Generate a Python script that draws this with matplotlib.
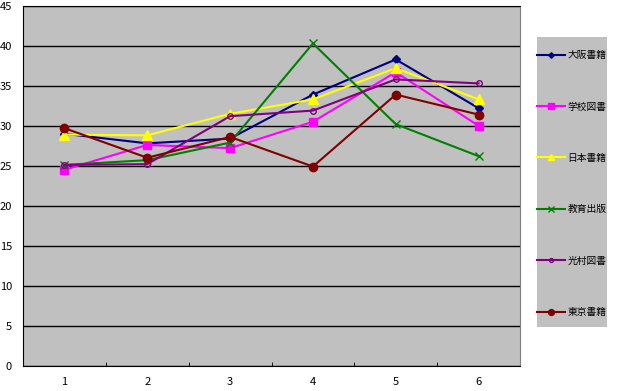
import matplotlib.pyplot as plt
from matplotlib.patches import Rectangle
from matplotlib.ticker import MultipleLocator

plt.rcParams['font.family'] = ['Noto Sans CJK JP', 'DejaVu Sans']

# 数値データ
x = [1, 2, 3, 4, 5, 6]
osaka = [29.0, 27.8, 28.4, 33.9, 38.3, 32.2]
gakko = [24.5, 27.6, 27.2, 30.5, 36.7, 30.0]
nihon = [28.9, 28.8, 31.5, 33.3, 37.2, 33.3]
kyoiku = [25.1, 25.7, 27.9, 40.3, 30.2, 26.2]
mitsumura = [25.1, 25.2, 31.2, 31.9, 35.8, 35.3]
tokyo = [29.7, 26.0, 28.6, 24.9, 33.9, 31.4]

labels = ['大阪書籍', '学校図書', '日本書籍', '教育出版', '光村図書', '東京書籍']

fig = plt.figure(figsize=(6.22, 3.91), dpi=100)
fig.patch.set_facecolor('white')
ax = fig.add_axes([0.037, 0.065, 0.799, 0.92])
ax.set_facecolor('#C0C0C0')

ax.plot(x, osaka, color='#000080', marker='D', markersize=4, lw=1.5, label=labels[0])
ax.plot(x, gakko, color='#FF00FF', marker='s', markersize=6, lw=1.5, label=labels[1])
ax.plot(x, nihon, color='#FFFF00', marker='^', markersize=7, lw=1.5, label=labels[2])
ax.plot(x, kyoiku, color='#008000', marker='x', markersize=6, lw=1.5,
        markeredgewidth=1, label=labels[3])
ax.plot(x, mitsumura, color='#800080', marker='o', markersize=4, lw=1.5,
        markerfacecolor='none', markeredgewidth=1, label=labels[4])
ax.plot(x, tokyo, color='#800000', marker='o', markersize=6, lw=1.5, label=labels[5])

# 軸設定
ax.set_xlim(0.5, 6.5)
ax.set_ylim(0, 45)
ax.yaxis.set_major_locator(MultipleLocator(5))
ax.set_xticks(x)
ax.set_xticks([1.5, 2.5, 3.5, 4.5, 5.5, 6.5], minor=True)
ax.tick_params(axis='x', which='major', length=0, labelsize=8, pad=8)
ax.tick_params(axis='x', which='minor', length=3, direction='in')
ax.tick_params(axis='y', length=0, labelsize=8, pad=8)
ax.yaxis.grid(True, color='black', lw=1)
ax.set_axisbelow(True)
for s in ['left', 'bottom', 'top']:
    ax.spines[s].set_color('black')
ax.spines['right'].set_color('#808080')

# 凡例の背景
fig.patches.append(Rectangle((0.8633, 0.1637), 0.1126, 0.7417,
                             transform=fig.transFigure, facecolor='#C0C0C0',
                             edgecolor='none', zorder=0))

leg = fig.legend(loc='upper left', bbox_to_anchor=(0.8633, 0.872), fontsize=7,
                 labelspacing=4.26, handlelength=2.9, handletextpad=0.25,
                 borderpad=0, borderaxespad=0, markerscale=0.7, frameon=False)

fig.savefig('out.png', dpi=100)
